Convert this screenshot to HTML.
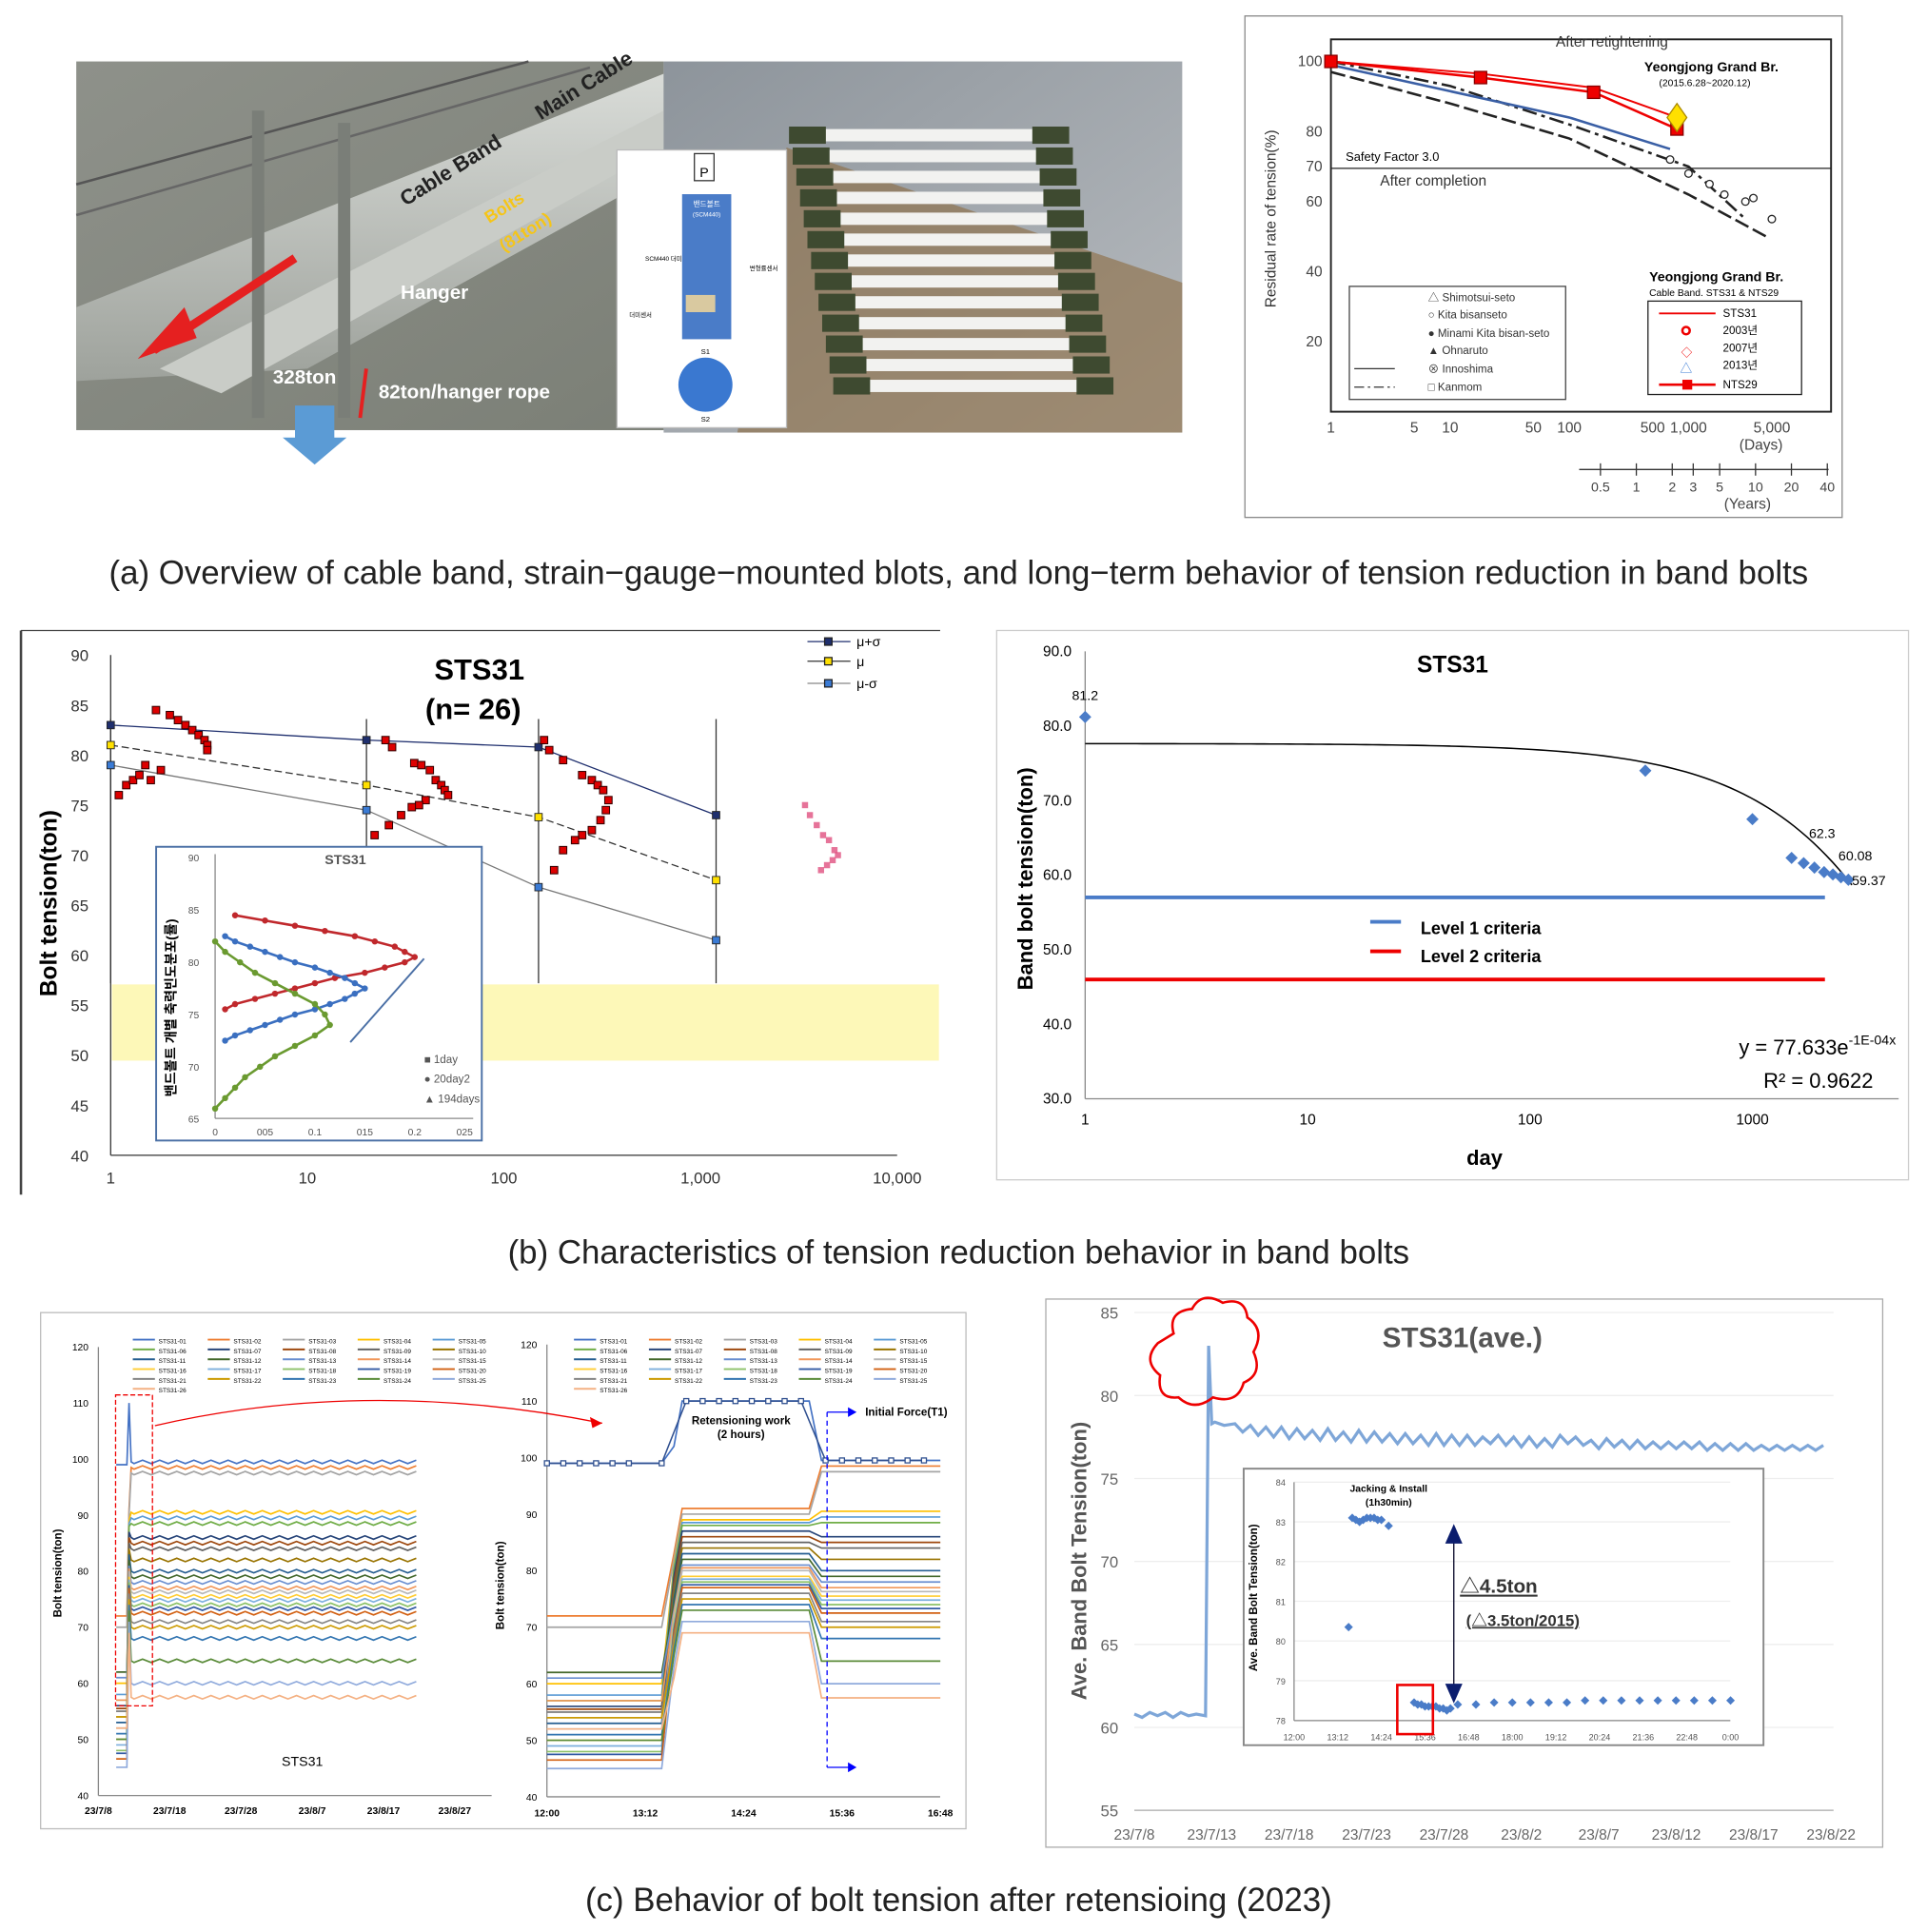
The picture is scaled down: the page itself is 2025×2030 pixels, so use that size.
<!DOCTYPE html>
<html><head><meta charset="utf-8">
<style>
html,body{margin:0;padding:0;background:#fff;width:2025px;height:2030px;overflow:hidden}
svg{display:block}
text{font-family:"Liberation Sans","Noto Sans CJK KR",sans-serif}
</style></head>
<body>
<svg id="root" width="2025" height="2030" viewBox="0 0 1568 1572" xmlns="http://www.w3.org/2000/svg">
<defs>
<linearGradient id="sky" x1="0" y1="0" x2="1" y2="1"><stop offset="0" stop-color="#8e918a"/><stop offset="1" stop-color="#7b7f76"/></linearGradient>
<linearGradient id="cable" x1="0" y1="0" x2="0" y2="1"><stop offset="0" stop-color="#d9dcd8"/><stop offset="1" stop-color="#9ea29c"/></linearGradient>
<linearGradient id="table" x1="0" y1="0" x2="1" y2="1"><stop offset="0" stop-color="#8d949b"/><stop offset="1" stop-color="#b8bcc0"/></linearGradient>
<clipPath id="insetClip"><rect x="127" y="689" width="265" height="239"/></clipPath>
</defs>

<g>
<rect x="62" y="50" width="478" height="300" fill="url(#sky)"/>
<polygon points="62,310 62,250 540,60 540,140 250,300" fill="url(#cable)"/>
<polygon points="130,300 540,90 540,120 180,320" fill="#c9ccc7"/>
<line x1="62" y1="150" x2="430" y2="50" stroke="#555" stroke-width="2"/>
<line x1="62" y1="175" x2="480" y2="55" stroke="#666" stroke-width="2"/>
<rect x="205" y="90" width="10" height="250" fill="#7a7e78"/>
<rect x="275" y="100" width="10" height="240" fill="#7a7e78"/>
<line x1="240" y1="210" x2="125" y2="285" stroke="#e52020" stroke-width="7"/>
<polygon points="112,292 150,250 160,275" fill="#e52020"/>
<line x1="298" y1="300" x2="293" y2="340" stroke="#e52020" stroke-width="3"/>
<polygon points="240,330 272,330 272,356 282,356 256,378 230,356 240,356" fill="#5b9bd5"/>
<text x="222" y="312" font-size="16" font-weight="bold" fill="#fff">328ton</text>
<text x="308" y="324" font-size="16" font-weight="bold" fill="#fff">82ton/hanger rope</text>
<text x="326" y="243" font-size="16" font-weight="bold" fill="#fff">Hanger</text>
<text x="330" y="168" font-size="17" font-weight="bold" fill="#222" transform="rotate(-32 330 168)">Cable Band</text>
<text x="440" y="98" font-size="17" font-weight="bold" fill="#222" transform="rotate(-32 440 98)">Main Cable</text>
<text x="398" y="182" font-size="14" font-weight="bold" fill="#f5c518" transform="rotate(-32 398 182)">Bolts</text>
<text x="410" y="205" font-size="14" font-weight="bold" fill="#f5c518" transform="rotate(-32 410 205)">(81ton)</text>
</g>
<g>
<rect x="540" y="50" width="422" height="302" fill="url(#table)"/>
<polygon points="640,120 962,230 962,352 600,352" fill="#8c6a3f" opacity="0.6"/>
<g id="sensors"></g>
</g>
<g>
<rect x="502" y="122" width="138" height="226" fill="#fff" stroke="#bbb"/>
<rect x="565" y="125" width="16" height="22" fill="#fff" stroke="#333"/><text x="573" y="144" font-size="11" text-anchor="middle">P</text>
<rect x="555" y="158" width="40" height="118" fill="#4a7cc8"/>
<text x="575" y="168" font-size="6" fill="#fff" text-anchor="middle">밴드볼트</text>
<text x="575" y="176" font-size="5" fill="#fff" text-anchor="middle">(SCM440)</text>
<rect x="558" y="240" width="24" height="14" fill="#d9c9a0"/>
<text x="525" y="212" font-size="5">SCM440 더미</text>
<text x="610" y="220" font-size="5">변형률센서</text>
<text x="512" y="258" font-size="5">더미센서</text>
<circle cx="574" cy="313" r="22" fill="#3a78d0"/>
<text x="574" y="288" font-size="6" text-anchor="middle">S1</text><text x="574" y="343" font-size="6" text-anchor="middle">S2</text>
</g>

<g>
<rect x="1013" y="13" width="486" height="408" fill="#fff" stroke="#888"/>
<rect x="1083" y="32" width="407" height="303" fill="none" stroke="#222" stroke-width="1.5"/>
<line x1="1083" y1="137" x2="1490" y2="137" stroke="#222"/>
<g id="ltc"></g>
<text x="1038" y="178" font-size="12" fill="#333" transform="rotate(-90 1038 178)" text-anchor="middle">Residual rate of tension(%)</text>
<text x="1266" y="38" font-size="12" fill="#333">After retightening</text>
<text x="1338" y="58" font-size="11" font-weight="bold">Yeongjong Grand Br.</text>
<text x="1350" y="70" font-size="8">(2015.6.28~2020.12)</text>
<text x="1095" y="131" font-size="10">Safety Factor 3.0</text>
<text x="1123" y="151" font-size="12" fill="#333">After completion</text>
<rect x="1098" y="233" width="176" height="92" fill="#fff" stroke="#444"/>
<g font-size="9" fill="#333">
<text x="1162" y="245">△ Shimotsui-seto</text><text x="1162" y="259">○ Kita bisanseto</text><text x="1162" y="274">● Minami Kita bisan-seto</text><text x="1162" y="288">▲ Ohnaruto</text><text x="1162" y="303">⊗ Innoshima</text><text x="1162" y="318">□ Kanmom</text></g>
<line x1="1102" y1="300" x2="1135" y2="300" stroke="#333"/><line x1="1102" y1="315" x2="1135" y2="315" stroke="#333" stroke-dasharray="8,3,2,3"/>
<text x="1342" y="229" font-size="11" font-weight="bold">Yeongjong Grand Br.</text>
<text x="1342" y="241" font-size="8">Cable Band. STS31 &amp; NTS29</text>
<rect x="1341" y="245" width="125" height="76" fill="#fff" stroke="#222"/>
<g font-size="9"><text x="1402" y="258">STS31</text><text x="1402" y="272">2003년</text><text x="1402" y="286">2007년</text><text x="1402" y="300">2013년</text><text x="1402" y="316">NTS29</text></g>
<line x1="1350" y1="255" x2="1396" y2="255" stroke="#e00" stroke-width="1.5"/><line x1="1350" y1="313" x2="1396" y2="313" stroke="#e00" stroke-width="2"/><rect x="1369" y="309" width="8" height="8" fill="#e00"/>
<circle cx="1372" cy="269" r="3" fill="none" stroke="#e00" stroke-width="2"/><text x="1368" y="290" font-size="9" fill="#e00">◇</text><text x="1367" y="303" font-size="10" fill="#3a7bd5">△</text>
<text x="1433" y="366" font-size="12" fill="#444" text-anchor="middle">(Days)</text>
<line x1="1285" y1="382" x2="1488" y2="382" stroke="#333"/>
<text x="1422" y="414" font-size="12" fill="#444" text-anchor="middle">(Years)</text>
</g>

<text x="780" y="475" font-size="27" text-anchor="middle" fill="#222">(a) Overview of cable band, strain−gauge−mounted blots, and long−term behavior of tension reduction in band bolts</text>

<g>
<rect x="17" y="513" width="748" height="459" fill="#fff"/>
<line x1="17" y1="513" x2="17" y2="972" stroke="#444" stroke-width="2"/>
<line x1="17" y1="513" x2="765" y2="513" stroke="#444"/>
<rect x="91" y="801" width="673" height="62" fill="#fdf8b8"/>
<g id="bl"></g>
<text x="46" y="735" font-size="19" font-weight="bold" transform="rotate(-90 46 735)" text-anchor="middle">Bolt tension(ton)</text>
<text x="390" y="553" font-size="24" font-weight="bold" text-anchor="middle">STS31</text>
<text x="385" y="585" font-size="24" font-weight="bold" text-anchor="middle">(n= 26)</text>
</g>
<g>
<rect x="127" y="689" width="265" height="239" fill="#fff" stroke="#4a6fa5" stroke-width="1.5"/>
<g id="inset" clip-path="url(#insetClip)"></g>
<text x="281" y="703" font-size="11" font-weight="bold" fill="#555" text-anchor="middle">STS31</text>
<text x="143" y="820" font-size="11" font-weight="bold" transform="rotate(-90 143 820)" text-anchor="middle">밴드볼트 개별 축력빈도분포(률)</text>
<g font-size="9" fill="#555"><text x="345" y="865">■ 1day</text><text x="345" y="881">● 20day2</text><text x="345" y="897">▲ 194days</text></g>
</g>

<g>
<rect x="811" y="513" width="742" height="447" fill="#fff" stroke="#ccc"/>
<g id="br"></g>
<text x="840" y="715" font-size="17" font-weight="bold" transform="rotate(-90 840 715)" text-anchor="middle">Band bolt tension(ton)</text>
<text x="1182" y="547" font-size="19" font-weight="bold" text-anchor="middle">STS31</text>
<text x="1208" y="948" font-size="17" font-weight="bold" text-anchor="middle">day</text>
<line x1="1115" y1="750" x2="1140" y2="750" stroke="#4a7cc8" stroke-width="3"/><text x="1156" y="760" font-size="14" font-weight="bold">Level 1 criteria</text>
<line x1="1115" y1="774" x2="1140" y2="774" stroke="#e00" stroke-width="3"/><text x="1156" y="783" font-size="14" font-weight="bold">Level 2 criteria</text>
<text x="1415" y="858" font-size="17">y = 77.633e<tspan font-size="11" dy="-8">-1E-04x</tspan></text>
<text x="1435" y="885" font-size="17">R² = 0.9622</text>
</g>

<text x="780" y="1028" font-size="27" text-anchor="middle" fill="#222">(b) Characteristics of tension reduction behavior in band bolts</text>

<g>
<rect x="33" y="1068" width="753" height="420" fill="#fff" stroke="#bbb"/>
<g id="cl"></g>
<text x="50" y="1280" font-size="9" font-weight="bold" transform="rotate(-90 50 1280)" text-anchor="middle">Bolt tension(ton)</text>
<text x="410" y="1290" font-size="9" font-weight="bold" transform="rotate(-90 410 1290)" text-anchor="middle">Bolt tension(ton)</text>
<text x="246" y="1437" font-size="11" text-anchor="middle">STS31</text>
<rect x="94" y="1135" width="30" height="253" fill="none" stroke="#e00" stroke-dasharray="4,2"/>
<path d="M126 1160 Q300 1120 490 1158" fill="none" stroke="#e00"/>
<polygon points="490,1158 480,1153 482,1162" fill="#e00"/>
<text x="603" y="1159" font-size="9" font-weight="bold" text-anchor="middle">Retensioning work</text>
<text x="603" y="1170" font-size="9" font-weight="bold" text-anchor="middle">(2 hours)</text>
<line x1="673" y1="1149" x2="673" y2="1438" stroke="#00f" stroke-dasharray="4,3"/>
<line x1="673" y1="1149" x2="695" y2="1149" stroke="#00f"/><polygon points="697,1149 690,1145 690,1153" fill="#00f"/>
<line x1="673" y1="1438" x2="695" y2="1438" stroke="#00f"/><polygon points="697,1438 690,1434 690,1442" fill="#00f"/>
<text x="704" y="1152" font-size="9" font-weight="bold">Initial Force(T1)</text>
</g>

<g>
<rect x="851" y="1057" width="681" height="446" fill="#fff" stroke="#aaa"/>
<g id="cr"></g>
<text x="884" y="1270" font-size="17" font-weight="bold" fill="#555" transform="rotate(-90 884 1270)" text-anchor="middle">Ave. Band Bolt Tension(ton)</text>
<text x="1190" y="1096" font-size="23" font-weight="bold" fill="#555" text-anchor="middle">STS31(ave.)</text>
<path d="M955 1085 q-5-18 15-20 q8-15 25-5 q18-5 20 12 q15 10 5 28 q8 18-8 25 q-5 18-25 12 q-15 12-28 0 q-18 2-15-18 q-15-12 -2-26 z" fill="none" stroke="#e00" stroke-width="2"/>
<rect x="1012" y="1195" width="423" height="225" fill="#fff" stroke="#888" stroke-width="1.5"/>
<g id="ci"></g>
<text x="1023" y="1300" font-size="9" font-weight="bold" transform="rotate(-90 1023 1300)" text-anchor="middle">Ave. Band Bolt Tension(ton)</text>
<text x="1130" y="1214" font-size="8" font-weight="bold" text-anchor="middle">Jacking &amp; Install</text>
<text x="1130" y="1225" font-size="8" font-weight="bold" text-anchor="middle">(1h30min)</text>
<line x1="1183" y1="1250" x2="1183" y2="1378" stroke="#002" stroke-width="1"/>
<polygon points="1183,1240 1176,1256 1190,1256" fill="#0b1d6e"/><polygon points="1183,1386 1176,1370 1190,1370" fill="#0b1d6e"/>
<text x="1188" y="1296" font-size="16" font-weight="bold" fill="#333" text-decoration="underline">△4.5ton</text>
<text x="1193" y="1323" font-size="13" font-weight="bold" fill="#333" text-decoration="underline">(△3.5ton/2015)</text>
<rect x="1137" y="1371" width="29" height="40" fill="none" stroke="#e00" stroke-width="2"/>
</g>

<text x="780" y="1555" font-size="27" text-anchor="middle" fill="#222">(c) Behavior of bolt tension after retensioing (2023)</text>
</svg>

<script>
const NS='http://www.w3.org/2000/svg';
function mk(parent,tag,attrs,txt){const e=document.createElementNS(NS,tag);for(const k in attrs)e.setAttribute(k,attrs[k]);if(txt!==undefined)e.textContent=txt;document.getElementById(parent).appendChild(e);return e;}
const lg=Math.log10;

const sensorRows=[0,1,2,3,4,5,6,7,8,9,10,11,12];
sensorRows.forEach(i=>{const y=105+i*17;const x0=650+i*3;
 const r=mk('sensors','rect',{x:x0,y:y,width:200,height:10,fill:'#f2f2f0'});
 
 
 mk('sensors','rect',{x:x0-8,y:y-2,width:30,height:14,fill:'#3e4a30'});
 mk('sensors','rect',{x:x0+190,y:y-2,width:30,height:14,fill:'#3e4a30'});});

// ---- top-right long-term chart ----
const ltYTicks=[100,80,70,60,40,20];
const ltXTicks=[1,5,10,50,100,500,1000,5000];
const ltXLabels=['1','5','10','50','100','500','1,000','5,000'];
const ltYearTicks=[0.5,1,2,3,5,10,20,40];
const ltUpper=[[1,100],[10,93],[100,82],[1000,70],[3000,55]];
const ltLower=[[1,97],[10,88],[100,78],[1000,62],[4500,50]];
const stsDays=[1,18,160,800];
const stsVals=[100,95.4,91.2,80.7];
const ntsDays=[1,18,160,800];
const ntsVals=[100,96.5,92.5,84];
const ltx=d=>1083+lg(d)*97, lty=v=>50+(100-v)*2.85;
ltYTicks.forEach(v=>{const t=mk('ltc','text',{x:1076,y:lty(v)+4,'font-size':12,'text-anchor':'end',fill:'#444'},v);});
ltXTicks.forEach((d,i)=>{const t=mk('ltc','text',{x:ltx(d),y:352,'font-size':12,'text-anchor':'middle',fill:'#444'},ltXLabels[i]);});
ltYearTicks.forEach(yr=>{const x=ltx(yr*365);mk('ltc','line',{x1:x,y1:377,x2:x,y2:387,stroke:'#333'});const t=mk('ltc','text',{x:x,y:400,'font-size':11,'text-anchor':'middle',fill:'#444'},yr);});
[[ltUpper,'12,4,3,4'],[ltLower,'12,4']].forEach(([s,da])=>{const p=mk('ltc','polyline',{points:s.map(q=>ltx(q[0])+','+lty(q[1])).join(' '),fill:'none',stroke:'#222','stroke-width':2,'stroke-dasharray':da});});
const ltMid=[[1,99],[100,84],[700,75]];
mk('ltc','polyline',{points:ltMid.map(q=>ltx(q[0])+','+lty(q[1])).join(' '),fill:'none',stroke:'#3a5fa5','stroke-width':2});
const sl=mk('ltc','polyline',{points:stsDays.map((d,i)=>ltx(d)+','+lty(stsVals[i])).join(' '),fill:'none',stroke:'#e00','stroke-width':2});


const nl=mk('ltc','polyline',{points:ntsDays.map((d,i)=>ltx(d)+','+lty(ntsVals[i])).join(' '),fill:'none',stroke:'#e00','stroke-width':1.5});


stsDays.forEach((d,i)=>mk('ltc','rect',{x:ltx(d)-5,y:lty(stsVals[i])-5,width:10,height:10,fill:'#e00',stroke:'#800'}));
const refPtsD=[700,1000,1500,2000,3000,3500,5000];
const refPtsV=[72,68,65,62,60,61,55];
refPtsD.forEach((d,i)=>{const c=mk('ltc','circle',{cx:ltx(d),cy:lty(refPtsV[i]),r:3,fill:'#fff',stroke:'#222'});});
mk('ltc','polygon',{points:`${ltx(800)-8},${lty(84)} ${ltx(800)},${lty(88)} ${ltx(800)+8},${lty(84)} ${ltx(800)},${lty(80)}`,fill:'#ffe000',stroke:'#a80'});

// ---- (b) left ----
const blYTicks=[90,85,80,75,70,65,60,55,50,45,40];
const blXTicks=[1,10,100,1000,10000];
const blXLabels=['1','10','100','1,000','10,000'];
const statDays=[1,20,150,1200];
const muPlus=[83,81.5,80.8,74];
const muVals=[81,77,73.8,67.5];
const muMinus=[79,74.5,66.8,61.5];
const scatterDays=[1.1,1.2,1.3,1.4,1.5,1.7,2,2.2,2.4,2.6,2.8,3,3.1,3.1,1.6,1.8,25,27,35,38,42,45,48,50,52,40,37,34,30,26,22,160,170,200,250,280,300,320,340,330,310,280,250,230,200,180];
const scatterVals=[76,77,77.5,78,79,84.5,84,83.5,83,82.5,82,81.5,81,80.5,77.5,78.5,81.5,80.8,79.2,79,78.5,77.5,77,76.5,76,75.5,75,74.8,74,73,72,81.5,80.5,79.5,78,77.5,77,76.5,75.5,74.5,73.5,72.5,72,71.5,70.5,68.5];
const blx=d=>90+lg(d)*160, bly=v=>533+(90-v)*8.14;
blYTicks.forEach(v=>{const t=mk('bl','text',{x:72,y:bly(v)+5,'font-size':13,'text-anchor':'end',fill:'#333'},v);});
blXTicks.forEach((d,i)=>{const t=mk('bl','text',{x:blx(d),y:963,'font-size':13,'text-anchor':'middle',fill:'#333'},blXLabels[i]);});
mk('bl','line',{x1:90,y1:533,x2:90,y2:940,stroke:'#333'});mk('bl','line',{x1:90,y1:940,x2:730,y2:940,stroke:'#333'});
statDays.forEach(d=>mk('bl','line',{x1:blx(d),y1:585,x2:blx(d),y2:800,stroke:'#333'}));
[[muPlus,'#1f2f6e','none','#1f2f6e'],[muVals,'#333','6,3','#ffe000'],[muMinus,'#777','none','#3a7bd5']].forEach(([s,c,da,mf])=>{
 const p=mk('bl','polyline',{points:statDays.map((d,i)=>blx(d)+','+bly(s[i])).join(' '),fill:'none',stroke:c,'stroke-dasharray':da});
 
 
 statDays.forEach((d,i)=>mk('bl','rect',{x:blx(d)-3,y:bly(s[i])-3,width:6,height:6,fill:mf,stroke:'#222','stroke-width':0.7}));});
scatterDays.forEach((d,i)=>{const r=mk('bl','rect',{x:blx(d)-3,y:bly(scatterVals[i])-3,width:6,height:6,fill:'#d00',stroke:'#300','stroke-width':0.8});});
const lateDays=[3400,3600,3900,4200,4500,4800,5000,4700,4400,4100];
const lateVals=[67,66,65,64,63.5,62.5,62,61.5,61,60.5];
lateDays.forEach((d,i)=>mk('bl','rect',{x:blx(d)-2.5,y:bly(lateVals[i]+8)-2.5,width:5,height:5,fill:'#e05080',opacity:0.8}));
[['μ+σ','#1f2f6e','#1f2f6e',526],['μ','#333','#ffe000',542],['μ-σ','#888','#3a7bd5',560]].forEach(([l,c,f,y])=>{mk('bl','line',{x1:657,y1:y-4,x2:692,y2:y-4,stroke:c});mk('bl','rect',{x:671,y:y-7,width:6,height:6,fill:f,stroke:'#222'});mk('bl','text',{x:697,y:y,'font-size':11},l);});

// inset
const inXT=[0,0.05,0.1,0.15,0.2,0.25];
const inXL=['0','005','0.1','015','0.2','025'];
const inYT=[90,85,80,75,70,65];
const inx=f=>175+f*812, iny=v=>698+(90-v)*8.5;
const day1V=[84.5,84,83.5,83,82.5,82,81.5,81,80.5,80,79.5,79,78.5,78,77.5,77,76.5,76,75.5];
const day1F=[0.02,0.05,0.08,0.11,0.14,0.16,0.18,0.19,0.2,0.19,0.17,0.15,0.12,0.1,0.08,0.06,0.04,0.02,0.01];
const day20V=[82.5,82,81.5,81,80.5,80,79.5,79,78.5,78,77.5,77,76.5,76,75.5,75,74.5,74,73.5,73,72.5];
const day20F=[0.01,0.02,0.035,0.05,0.065,0.08,0.1,0.115,0.13,0.14,0.15,0.14,0.13,0.115,0.1,0.08,0.065,0.05,0.035,0.02,0.01];
const day194V=[82,81,80,79,78,77,76,75,74,73,72,71,70,69,68,67,66];
const day194F=[0,0.01,0.025,0.04,0.06,0.08,0.1,0.11,0.115,0.1,0.08,0.06,0.045,0.03,0.02,0.01,0];
inYT.forEach(v=>mk('inset','text',{x:162,y:iny(v)+3,'font-size':8,'text-anchor':'end',fill:'#555'},v));
inXT.forEach((f,i)=>mk('inset','text',{x:inx(f),y:924,'font-size':8,'text-anchor':'middle',fill:'#555'},inXL[i]));
mk('inset','line',{x1:175,y1:695,x2:175,y2:910,stroke:'#888'});mk('inset','line',{x1:175,y1:910,x2:385,y2:910,stroke:'#888'});
[[day1F,day1V,'#c0282c'],[day20F,day20V,'#3a6fc0'],[day194F,day194V,'#6a9a30']].forEach(([F,V,c])=>{
 const p=mk('inset','polyline',{points:F.map((f,i)=>inx(f)+','+iny(V[i])).join(' '),fill:'none',stroke:c,'stroke-width':2});
 
 
 F.forEach((f,i)=>mk('inset','circle',{cx:inx(f),cy:iny(V[i]),r:2.5,fill:c}));});
mk('inset','line',{x1:345,y1:780,x2:285,y2:848,stroke:'#4a6fa5','stroke-width':1.5});

// ---- (b) right ----
const brYT=[90,80,70,60,50,40,30];
const brXT=[1,10,100,1000];
const brDays=[1,330,1000,1500,1700,1900,2100,2300,2500,2700];
const brVals=[81.2,74,67.5,62.3,61.6,61,60.4,60.08,59.7,59.37];
const brLevel1=57, brLevel2=46;
const fitA=77.633, fitB=1e-4;
const brx=d=>883+lg(d)*181, bry=v=>530+(90-v)*6.067;
brYT.forEach(v=>{const t=mk('br','text',{x:872,y:bry(v)+4,'font-size':12,'text-anchor':'end'},v.toFixed(1));});
brXT.forEach(d=>{const t=mk('br','text',{x:brx(d),y:915,'font-size':12,'text-anchor':'middle'},d);});
mk('br','line',{x1:883,y1:530,x2:883,y2:894,stroke:'#888'});mk('br','line',{x1:883,y1:894,x2:1545,y2:894,stroke:'#888'});
const l1=mk('br','line',{x1:883,y1:bry(brLevel1),x2:1485,y2:bry(brLevel1),stroke:'#4a7cc8','stroke-width':3});


const l2=mk('br','line',{x1:883,y1:bry(brLevel2),x2:1485,y2:bry(brLevel2),stroke:'#e00','stroke-width':3});


let fp=[];for(let i=0;i<=120;i++){const d=Math.pow(10,i/120*lg(2800));fp.push(brx(d)+','+bry(fitA*Math.exp(-fitB*d)));}
const fl=mk('br','polyline',{points:fp.join(' '),fill:'none',stroke:'#000','stroke-width':1.2});


brDays.forEach((d,i)=>{const x=brx(d),y=bry(brVals[i]);const p=mk('br','polygon',{points:`${x},${y-5} ${x+5},${y} ${x},${y+5} ${x-5},${y}`,fill:'#4a7cc8'});});
mk('br','text',{x:883,y:bry(81.2)-14,'font-size':11,'text-anchor':'middle'},'81.2');
mk('br','text',{x:1472,y:682,'font-size':11},'62.3');mk('br','text',{x:1496,y:700,'font-size':11},'60.08');mk('br','text',{x:1507,y:720,'font-size':11},'59.37');

// ---- (c) left ----
const palette=['#4472c4','#ed7d31','#a5a5a5','#ffc000','#5b9bd5','#70ad47','#264478','#9e480e','#636363','#997300','#255e91','#43682b','#698ed0','#f1975a','#b7b7b7','#ffcd33','#7cafdd','#8cc168','#325aa4','#d26012','#848484','#cc9a00','#3275b1','#5a8b39','#8faadc','#f4b183'];
const finalLevels=[99.5,98.5,97.5,90.5,89.5,88.5,86,85,84,82,80,79,78,77,76.3,75.5,74.8,74,73.3,72.5,71,70,68,64,60,57.5];
const initLevels=[99,72,70,60,58,57,56,55.5,55,54,53,62,61,57,52,50,49,48,47.5,46.5,55,54,51,50,45,52];
const retLevels=[110,91,90,89,88.5,88,87,86,85,84,83,82,81,80.5,80,79,78.5,78,77.5,77,76,75,74,73,71,69];
const c1XT=['23/7/8','23/7/18','23/7/28','23/8/7','23/8/17','23/8/27'];
const c1Xpos=[0,10,20,30,40,50];
const c2XT=['12:00','13:12','14:24','15:36','16:48'];
const c2Xhours=[0,1.2,2.4,3.6,4.8];
const cYT=[120,110,100,90,80,70,60,50,40];
const c1x=d=>80+d*5.8, c1y=v=>1096+(120-v)*4.56;
const c2x=h=>445+h*66.7, c2y=v=>1094+(120-v)*4.6;
cYT.forEach(v=>{mk('cl','text',{x:72,y:c1y(v)+3,'font-size':8,'text-anchor':'end'},v);mk('cl','text',{x:437,y:c2y(v)+3,'font-size':8,'text-anchor':'end'},v);});
c1XT.forEach((l,i)=>mk('cl','text',{x:c1x(c1Xpos[i]),y:1476,'font-size':8,'font-weight':'bold','text-anchor':'middle'},l));
c2XT.forEach((l,i)=>mk('cl','text',{x:c2x(c2Xhours[i]),y:1478,'font-size':8,'font-weight':'bold','text-anchor':'middle'},l));
mk('cl','line',{x1:80,y1:1096,x2:80,y2:1461,stroke:'#888'});mk('cl','line',{x1:80,y1:1461,x2:400,y2:1461,stroke:'#888'});
mk('cl','line',{x1:445,y1:1094,x2:445,y2:1462,stroke:'#888'});mk('cl','line',{x1:445,y1:1462,x2:765,y2:1462,stroke:'#888'});
finalLevels.forEach((f,i)=>{
 const c=palette[i%palette.length];
 let pts=[];pts.push(c1x(2.5)+','+c1y(initLevels[i]));pts.push(c1x(4)+','+c1y(initLevels[i]));pts.push(c1x(4.3)+','+c1y(retLevels[i]));pts.push(c1x(4.6)+','+c1y(f));
 for(let d=5;d<=45;d+=1.2){pts.push(c1x(d)+','+c1y(f+((Math.round(d/1.2)%2)?0.3:-0.3)));}
 const p=mk('cl','polyline',{points:pts.join(' '),fill:'none',stroke:c,'stroke-width':1.3});
 
 
 const q=mk('cl','polyline',{points:[[0,initLevels[i]],[1.4,initLevels[i]],[1.55,retLevels[i]-8],[1.65,retLevels[i]],[3.2,retLevels[i]],[3.35,f],[4.8,f]].map(a=>c2x(a[0])+','+c2y(a[1])).join(' '),fill:'none',stroke:c,'stroke-width':1.3});
 
 });
const markT=[0,0.2,0.4,0.6,0.8,1.0,1.4,1.7,1.9,2.1,2.3,2.5,2.7,2.9,3.1,3.4,3.6,3.8,4.0,4.2,4.4,4.6];
const markV=[99,99,99,99,99,99,99,110,110,110,110,110,110,110,110,99.5,99.5,99.5,99.5,99.5,99.5,99.5];
mk('cl','polyline',{points:markT.map((t,i)=>c2x(t)+','+c2y(markV[i])).join(' '),fill:'none',stroke:'#2f4f8f','stroke-width':1.2});
markT.forEach((t,i)=>mk('cl','rect',{x:c2x(t)-2,y:c2y(markV[i])-2,width:4,height:4,fill:'#fff',stroke:'#2f4f8f'}));
for(let k=0;k<26;k++){const col=k%5,row=Math.floor(k/5);const x=108+col*61,y=1092+row*8;
 mk('cl','line',{x1:x,y1:y-2,x2:x+18,y2:y-2,stroke:palette[k],'stroke-width':1.5});
 mk('cl','text',{x:x+21,y:y+1,'font-size':5},'STS31-'+String(k+1).padStart(2,'0'));
 mk('cl','line',{x1:x+359,y1:y-2,x2:x+377,y2:y-2,stroke:palette[k],'stroke-width':1.5});
 mk('cl','text',{x:x+380,y:y+1,'font-size':5},'STS31-'+String(k+1).padStart(2,'0'));}

// ---- (c) right ----
const crYT=[85,80,75,70,65,60,55];
const crXT=['23/7/8','23/7/13','23/7/18','23/7/23','23/7/28','23/8/2','23/8/7','23/8/12','23/8/17','23/8/22'];
const crDays=[0,0.5,1,1.5,2,2.5,3,3.5,4,4.6,4.8,5,5.2,5.8,6.5,7,7.5,8,8.5,9,9.5,10,10.5,11,11.5,12,12.5,13,13.5,14,14.5,15,15.5,16,16.5,17,17.5,18,18.5,19,19.5,20,20.5,21,21.5,22,22.5,23,23.5,24,24.5,25,25.5,26,26.5,27,27.5,28,28.5,29,29.5,30,30.5,31,31.5,32,32.5,33,33.5,34,34.5,35,35.5,36,36.5,37,37.5,38,38.5,39,39.5,40,40.5,41,41.5,42,42.5,43,43.5,44,44.5,45];
const crVals=[60.8,60.6,60.9,60.7,60.9,60.6,60.9,60.7,60.8,60.7,83,78.3,78.4,78.2,78.3,77.8,78.2,77.6,78.1,77.5,78.1,77.4,78.0,77.4,77.9,77.3,78.0,77.3,77.8,77.2,77.9,77.2,77.8,77.2,77.7,77.1,77.7,77.1,77.6,77.0,77.7,77.0,77.6,77.0,77.6,77.0,77.5,77.1,77.6,77.0,77.5,76.9,77.5,76.9,77.4,76.9,77.6,77.1,77.5,77.0,77.3,76.8,77.4,76.9,77.3,76.8,77.3,76.8,77.2,76.8,77.2,76.8,77.2,76.8,77.2,76.7,77.1,76.7,77.1,76.7,77.1,76.7,77.0,76.7,77.0,76.7,77.0,76.7,77.0,76.7,77.0];
const crx=d=>923+d*12.6, cry=v=>1068+(85-v)*13.5;
crYT.forEach(v=>{mk('cr','line',{x1:923,y1:cry(v),x2:1492,y2:cry(v),stroke:'#eee'});const t=mk('cr','text',{x:910,y:cry(v)+5,'font-size':13,'text-anchor':'end',fill:'#666'},v);});
crXT.forEach((l,i)=>{const t=mk('cr','text',{x:crx(i*5),y:1497,'font-size':12,'text-anchor':'middle',fill:'#666'},l);});
mk('cr','line',{x1:923,y1:1473,x2:1492,y2:1473,stroke:'#aaa'});
const cl=mk('cr','polyline',{points:crDays.map((d,i)=>crx(d)+','+cry(crVals[i])).join(' '),fill:'none',stroke:'#7ea6d8','stroke-width':2.5});


const ciYT=[84,83,82,81,80,79,78];
const ciXT=['12:00','13:12','14:24','15:36','16:48','18:00','19:12','20:24','21:36','22:48','0:00'];
const ciHours=[1.5,1.6,1.7,1.8,1.9,2.0,2.1,2.2,2.3,2.4,2.6,3.3,3.4,3.5,3.6,3.7,3.8,3.9,4.0,4.1,4.2,4.3,4.5,5,5.5,6,6.5,7,7.5,8,8.5,9,9.5,10,10.5,11,11.5,12];
const ciVals=[80.35,83.1,83.05,83.0,83.05,83.1,83.1,83.1,83.05,83.05,82.9,78.45,78.4,78.4,78.35,78.35,78.35,78.35,78.3,78.3,78.25,78.3,78.4,78.4,78.45,78.45,78.45,78.45,78.45,78.5,78.5,78.5,78.5,78.5,78.5,78.5,78.5,78.5];
const cix=h=>1053+h*29.6, ciy=v=>1206+(84-v)*32.3;
ciYT.forEach(v=>{mk('ci','line',{x1:1053,y1:ciy(v),x2:1408,y2:ciy(v),stroke:'#eee'});mk('ci','text',{x:1046,y:ciy(v)+3,'font-size':7,'text-anchor':'end',fill:'#555'},v);});
ciXT.forEach((l,i)=>mk('ci','text',{x:cix(i*1.2),y:1416,'font-size':7,'text-anchor':'middle',fill:'#555'},l));
mk('ci','line',{x1:1053,y1:1206,x2:1053,y2:1400,stroke:'#888'});mk('ci','line',{x1:1053,y1:1400,x2:1408,y2:1400,stroke:'#888'});
ciHours.forEach((h,i)=>{const x=cix(h),y=ciy(ciVals[i]);const p=mk('ci','polygon',{points:`${x},${y-3.5} ${x+3.5},${y} ${x},${y+3.5} ${x-3.5},${y}`,fill:'#4a7cc8'});});
</script>
</body></html>
